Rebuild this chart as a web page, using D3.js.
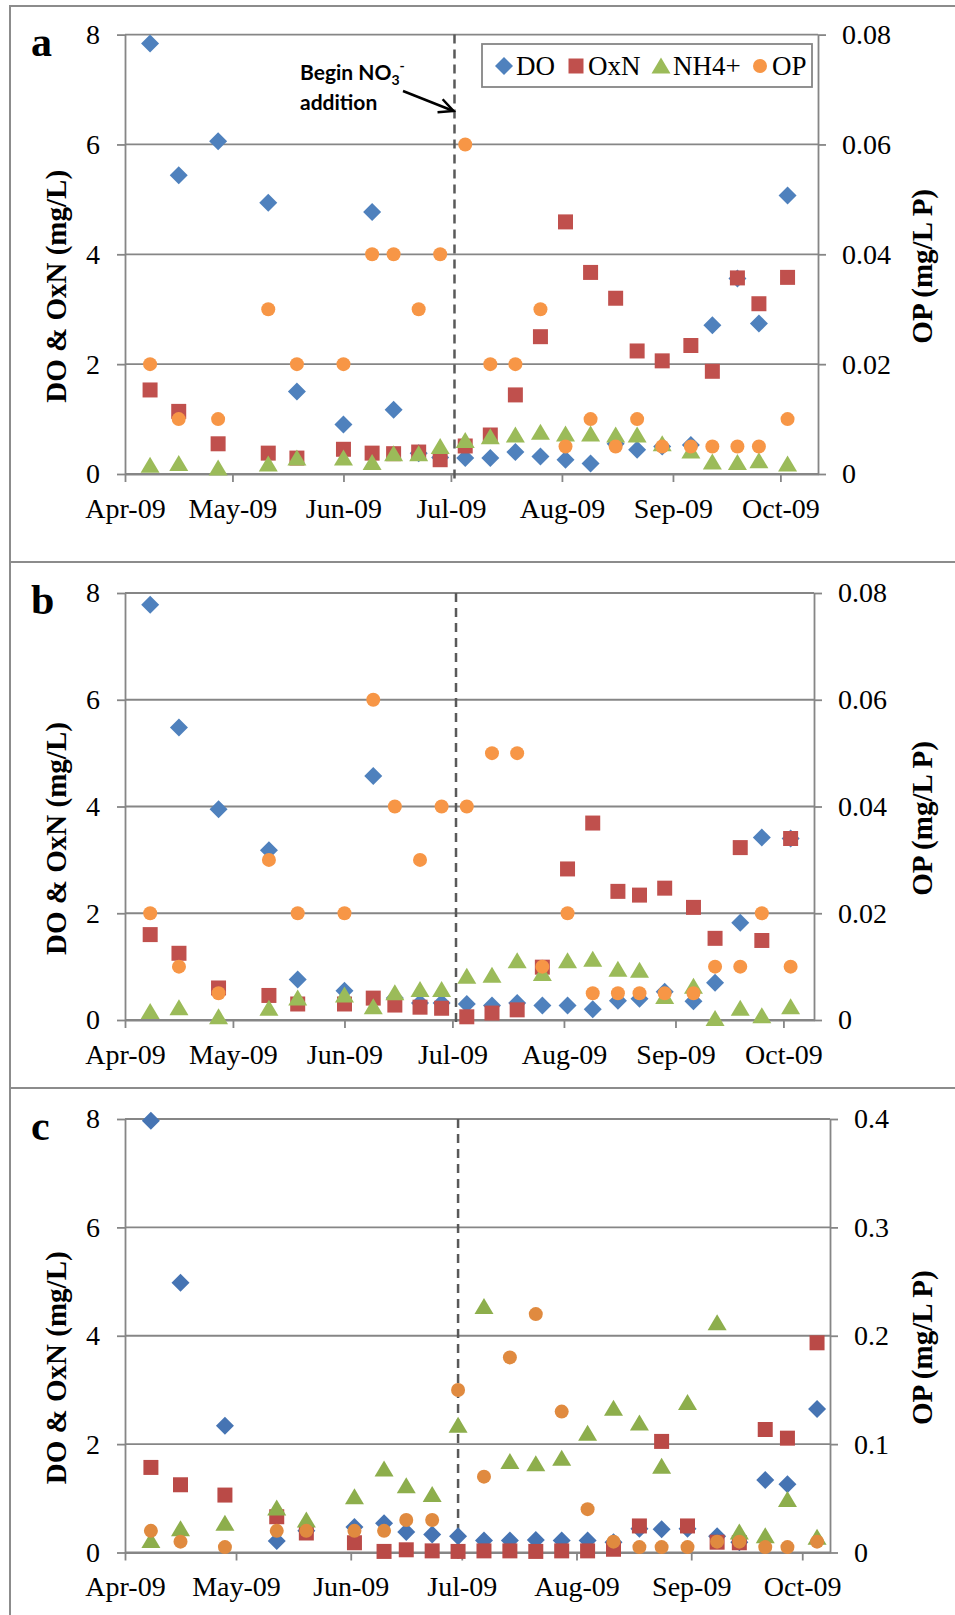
<!DOCTYPE html>
<html>
<head>
<meta charset="utf-8">
<script src="https://cdn.jsdelivr.net/npm/d3@7"></script>
<style>
  body { margin: 0; background: #fff; }
  svg text { font-family: "Liberation Serif", "Times New Roman", serif; fill: #000; }
</style>
</head>
<body>
<div id="chart"></div>
<script>
// Sampling dates (sites a and b share dates, site c was sampled a little later)
var datesAB = ['2009-04-08', '2009-04-16', '2009-04-27', '2009-05-11', '2009-05-19', '2009-06-01',
    '2009-06-09', '2009-06-15', '2009-06-22', '2009-06-28', '2009-07-05', '2009-07-12',
    '2009-07-19', '2009-07-26', '2009-08-02', '2009-08-09', '2009-08-16', '2009-08-22',
    '2009-08-29', '2009-09-06', '2009-09-12', '2009-09-19', '2009-09-25', '2009-10-03'];
var datesC = ['2009-04-08', '2009-04-16', '2009-04-28', '2009-05-12', '2009-05-20', '2009-06-02',
    '2009-06-10', '2009-06-16', '2009-06-23', '2009-06-30', '2009-07-07', '2009-07-14',
    '2009-07-21', '2009-07-28', '2009-08-04', '2009-08-11', '2009-08-18', '2009-08-24',
    '2009-08-31', '2009-09-08', '2009-09-14', '2009-09-21', '2009-09-27', '2009-10-05'];

// Panel a
var doA = [7.84, 5.44, 6.06, 4.94, 1.50, 0.90, 4.77, 1.17, 0.38, 0.30, 0.29, 0.29,
    0.40, 0.32, 0.26, 0.19, 0.55, 0.44, 0.50, 0.53, 2.71, 3.56, 2.74, 5.07];
var oxnA = [1.53, 1.14, 0.55, 0.38, 0.29, 0.45, 0.38, 0.37, 0.40, 0.26, 0.51, 0.71,
    1.44, 2.50, 4.59, 3.67, 3.20, 2.24, 2.06, 2.34, 1.87, 3.57, 3.10, 3.58];
var nh4A = [0.16, 0.19, 0.11, 0.18, 0.29, 0.29, 0.21, 0.37, 0.37, 0.50, 0.61, 0.68,
    0.71, 0.76, 0.73, 0.73, 0.71, 0.71, 0.55, 0.42, 0.22, 0.21, 0.24, 0.18];
var opA = [0.02, 0.01, 0.01, 0.03, 0.02, 0.02, 0.04, 0.04, 0.03, 0.04, 0.06, 0.02,
    0.02, 0.03, 0.005, 0.01, 0.005, 0.01, 0.005, 0.005, 0.005, 0.005, 0.005, 0.01];

// Panel b
var doB = [7.78, 5.48, 3.95, 3.18, 0.76, 0.55, 4.57, 0.41, 0.32, 0.32, 0.30, 0.27,
    0.32, 0.27, 0.27, 0.20, 0.36, 0.40, 0.53, 0.35, 0.70, 1.82, 3.42, 3.40];
var oxnB = [1.60, 1.25, 0.60, 0.46, 0.30, 0.30, 0.41, 0.28, 0.24, 0.22, 0.06, 0.13,
    0.19, 0.99, 2.83, 3.69, 2.41, 2.34, 2.47, 2.11, 1.53, 3.23, 1.49, 3.40];
var nh4B = [0.16, 0.23, 0.06, 0.22, 0.41, 0.47, 0.25, 0.51, 0.57, 0.57, 0.82, 0.84,
    1.11, 0.87, 1.11, 1.14, 0.95, 0.93, 0.44, 0.63, 0.03, 0.22, 0.08, 0.25];
var opB = [0.02, 0.01, 0.005, 0.03, 0.02, 0.02, 0.06, 0.04, 0.03, 0.04, 0.04, 0.05,
    0.05, 0.01, 0.02, 0.005, 0.005, 0.005, 0.005, 0.005, 0.01, 0.01, 0.02, 0.01];

// Panel c
var doC = [7.97, 4.98, 2.34, 0.21, 0.40, 0.47, 0.54, 0.38, 0.33, 0.30, 0.22, 0.22,
    0.23, 0.22, 0.22, 0.19, 0.44, 0.43, 0.44, 0.30, 0.19, 1.34, 1.26, 2.65];
var oxnC = [1.57, 1.25, 1.06, 0.66, 0.36, 0.18, 0.02, 0.05, 0.03, 0.02, 0.03, 0.03,
    0.02, 0.03, 0.03, 0.06, 0.49, 2.05, 0.49, 0.19, 0.18, 2.27, 2.11, 3.87];
var nh4C = [0.22, 0.44, 0.54, 0.82, 0.60, 1.03, 1.54, 1.23, 1.07, 2.35, 4.54, 1.68,
    1.64, 1.74, 2.20, 2.66, 2.39, 1.59, 2.77, 4.24, 0.38, 0.31, 0.98, 0.28];
var opC = [0.02, 0.01, 0.005, 0.02, 0.02, 0.02, 0.02, 0.03, 0.03, 0.15, 0.07, 0.18,
    0.22, 0.13, 0.04, 0.01, 0.005, 0.005, 0.005, 0.01, 0.01, 0.005, 0.005, 0.01];

// Axis ticks
var leftTicks = [0, 2, 4, 6, 8];
var opTicksAB = [0, 0.02, 0.04, 0.06, 0.08];
var opTicksC = [0, 0.1, 0.2, 0.3, 0.4];
var seriesNames = ['DO', 'OxN', 'NH4+', 'OP'];
var additionDates = ['2009-07-02', '2009-07-02', '2009-06-30'];

var parse = d3.timeParse('%Y-%m-%d');
var grey = '#868686';
var serif = '"Liberation Serif", "Times New Roman", serif';

var width = 955, height = 1615;
var svg = d3.select('#chart').append('svg')
    .attr('width', width).attr('height', height);

// Shape for each series, drawn around (0,0)
function shapePath(name) {
    if (name === 'DO') return 'M0,-9L9,0L0,9L-9,0Z';
    if (name === 'OxN') return 'M-7.5,-7.5H7.5V7.5H-7.5Z';
    if (name === 'NH4+') return 'M0,-8.5L9.5,7.5H-9.5Z';
    return d3.symbol(d3.symbolCircle, Math.PI * 49)();
}

var panels = [
    {label: 'a', dates: datesAB, values: [doA, oxnA, nh4A, opA], opTicks: opTicksAB, opFmt: '.2f',
        top: 34.6, bottom: 474, right: 818, xEnd: '2009-10-11', boxTop: 6, boxBottom: 562,
        colors: ['#4F81BD', '#C0504D', '#9BBB59', '#F79646'], legend: true},
    {label: 'b', dates: datesAB, values: [doB, oxnB, nh4B, opB], opTicks: opTicksAB, opFmt: '.2f',
        top: 593, bottom: 1020, right: 814, xEnd: '2009-10-09', boxTop: 562, boxBottom: 1088,
        colors: ['#4F81BD', '#C0504D', '#9BBB59', '#F79646'], legend: false},
    {label: 'c', dates: datesC, values: [doC, oxnC, nh4C, opC], opTicks: opTicksC, opFmt: '.1f',
        top: 1119, bottom: 1552.5, right: 830, xEnd: '2009-10-08', boxTop: 1088, boxBottom: 1640,
        colors: ['#4674B3', '#BA4A47', '#8DAE4C', '#E08A3F'], legend: false}
];

var left = 125;

panels.forEach(function(p, pi) {
    // panel frame
    svg.append('rect')
        .attr('x', 10).attr('y', p.boxTop)
        .attr('width', 980).attr('height', p.boxBottom - p.boxTop)
        .attr('fill', 'none').attr('stroke', '#8c8c8c').attr('stroke-width', 2);

    var x = d3.scaleTime()
        .domain([parse('2009-04-01'), d3.timeHour.offset(parse(p.xEnd), 12)])
        .range([left, p.right]);
    var yL = d3.scaleLinear().domain([0, 8]).range([p.bottom, p.top]);
    var yR = d3.scaleLinear().domain([0, p.opTicks[p.opTicks.length - 1]]).range([p.bottom, p.top]);

    var g = svg.append('g');

    // horizontal gridlines
    g.append('g').selectAll('line').data(leftTicks).enter().append('line')
        .attr('x1', left).attr('x2', p.right)
        .attr('y1', function(d) {return yL(d);})
        .attr('y2', function(d) {return yL(d);})
        .attr('stroke', grey).attr('stroke-width', 1.8);

    // axes
    var axL = g.append('g').attr('transform', 'translate(' + left + ',0)')
        .call(d3.axisLeft(yL).tickValues(leftTicks).tickFormat(d3.format('d'))
            .tickSize(8).tickSizeOuter(0).tickPadding(17));
    var axR = g.append('g').attr('transform', 'translate(' + p.right + ',0)')
        .call(d3.axisRight(yR).tickValues(p.opTicks)
            .tickFormat(function(d) {return d === 0 ? '0' : d3.format(p.opFmt)(d);})
            .tickSize(8).tickSizeOuter(0).tickPadding(16));
    var axB = g.append('g').attr('transform', 'translate(0,' + p.bottom + ')')
        .call(d3.axisBottom(x).ticks(d3.timeMonth.every(1)).tickFormat(d3.timeFormat('%b-%y'))
            .tickSize(8).tickSizeOuter(0).tickPadding(16));

    [axL, axR, axB].forEach(function(ax) {
        ax.attr('font-family', null).attr('font-size', null);
        ax.select('.domain').attr('stroke', grey).attr('stroke-width', 1.8);
        ax.selectAll('.tick line').attr('stroke', grey).attr('stroke-width', 1.8);
        ax.selectAll('.tick text')
            .style('font-family', serif).style('font-size', '28px').style('fill', '#000');
    });

    // dashed line at start of nitrate addition
    var xa = x(parse(additionDates[pi]));
    g.append('line')
        .attr('x1', xa).attr('x2', xa)
        .attr('y1', p.top).attr('y2', p.bottom + 6)
        .attr('stroke', '#595959').attr('stroke-width', 2.5)
        .attr('stroke-dasharray', '9,6');

    // markers, DO first so OP sits on top
    p.values.forEach(function(vals, si) {
        var name = seriesNames[si];
        var yScale = name === 'OP' ? yR : yL;
        g.append('g').selectAll('path').data(vals).enter().append('path')
            .attr('d', shapePath(name))
            .attr('transform', function(d, i) {
                return 'translate(' + x(parse(p.dates[i])) + ',' + yScale(d) + ')';
            })
            .attr('fill', p.colors[si]);
    });

    // panel letter
    svg.append('text')
        .attr('x', 31).attr('y', p.top + 21)
        .style('font-size', '42px').style('font-weight', 'bold')
        .text(p.label);

    // axis titles
    var mid = (p.top + p.bottom) / 2;
    svg.append('text')
        .attr('transform', 'translate(56,' + (mid + 32) + ') rotate(-90)')
        .attr('text-anchor', 'middle').attr('dominant-baseline', 'central')
        .style('font-size', '29px').style('font-weight', 'bold')
        .text('DO & OxN (mg/L)');
    svg.append('text')
        .attr('transform', 'translate(922,' + (mid + 12) + ') rotate(-90)')
        .attr('text-anchor', 'middle').attr('dominant-baseline', 'central')
        .style('font-size', '29px').style('font-weight', 'bold')
        .text('OP (mg/L P)');

    if (p.legend) {
        var lg = svg.append('g');
        lg.append('rect')
            .attr('x', 482).attr('y', 44).attr('width', 330).attr('height', 43)
            .attr('fill', '#fff').attr('stroke', grey).attr('stroke-width', 1.8);
        var legX = [504, 576, 661, 760];
        seriesNames.forEach(function(name, si) {
            lg.append('path')
                .attr('d', shapePath(name))
                .attr('transform', 'translate(' + legX[si] + ',66)')
                .attr('fill', p.colors[si]);
            lg.append('text')
                .attr('x', legX[si] + 12).attr('y', 75)
                .style('font-size', '27px')
                .text(name);
        });

        // annotation
        var ann = svg.append('text')
            .attr('x', 300).attr('y', 80)
            .style('font-family', 'Lato, "Open Sans", sans-serif')
            .style('font-size', '21px').style('font-weight', 'bold');
        ann.append('tspan').text('Begin NO');
        ann.append('tspan').style('font-size', '14px').attr('dy', 5).text('3');
        ann.append('tspan').style('font-size', '14px').attr('dy', -14).text('-');
        svg.append('text')
            .attr('x', 300).attr('y', 110)
            .style('font-family', 'Lato, "Open Sans", sans-serif')
            .style('font-size', '21px').style('font-weight', 'bold')
            .text('addition');

        // arrow to dashed line
        var ax0 = 403, ay0 = 91, ax1 = xa - 1, ay1 = 111;
        var ang = Math.atan2(ay1 - ay0, ax1 - ax0);
        svg.append('line')
            .attr('x1', ax0).attr('y1', ay0).attr('x2', ax1).attr('y2', ay1)
            .attr('stroke', '#000').attr('stroke-width', 2.5);
        svg.append('path')
            .attr('d', 'M' + (ax1 - 16 * Math.cos(ang - 0.45)) + ',' + (ay1 - 16 * Math.sin(ang - 0.45)) +
                'L' + ax1 + ',' + ay1 +
                'L' + (ax1 - 16 * Math.cos(ang + 0.45)) + ',' + (ay1 - 16 * Math.sin(ang + 0.45)))
            .attr('fill', 'none').attr('stroke', '#000').attr('stroke-width', 2.5);
    }
});
</script>
</body>
</html>
